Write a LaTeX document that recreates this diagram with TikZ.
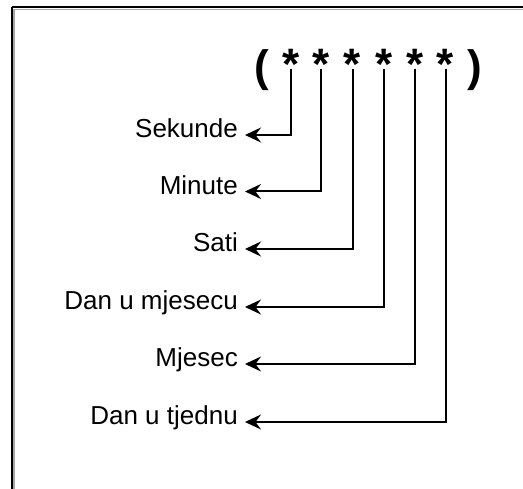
\documentclass[tikz,border=0pt]{standalone}
\usepackage{fontspec}
\setmainfont{Liberation Sans}
\usetikzlibrary{arrows.meta}
\begin{document}
\begin{tikzpicture}[x=1bp,y=-1bp,
  lab/.style={anchor=east,inner ysep=0pt,inner xsep=7bp,text height=0.72em,text depth=0.21em,font=\fontsize{26bp}{30bp}\selectfont},
  sym/.style={anchor=base,inner sep=0pt,font=\fontsize{44bp}{50bp}\selectfont\bfseries},
  arr/.style={draw=black,line width=2bp,-{Stealth[length=16bp,width=15bp,inset=5.5bp,fill=black]}},
  frame/.style={line width=2bp,draw=black},
  shade/.style={line width=1.6bp,draw=black!35}]
\useasboundingbox (0,0) rectangle (523,489);
% frame with shadow
\draw[shade] (13.8,9.4) -- (523,9.4);
\draw[shade] (13.8,9.4) -- (13.8,489);
\draw[frame] (11.7,7.3) -- (523,7.3);
\draw[frame] (11.7,7.3) -- (11.7,489);
% brackets and stars
\node[sym] (lp) at (262,82) {(};
\node[sym] (rp) at (475,82) {)};
\node[sym] (s1) at (291,80) {*};
\node[sym] (s2) at (321,80) {*};
\node[sym] (s3) at (352.5,80) {*};
\node[sym] (s4) at (384,80) {*};
\node[sym] (s5) at (415,80) {*};
\node[sym] (s6) at (445.5,80) {*};
\coordinate (t1) at (291,69);
\coordinate (t2) at (321,69);
\coordinate (t3) at (352.5,69);
\coordinate (t4) at (384,69);
\coordinate (t5) at (415,69);
\coordinate (t6) at (445.5,69);
% labels
\node[lab] (l1) at (245,135) {Sekunde};
\node[lab] (l2) at (245,191.5) {Minute};
\node[lab] (l3) at (245,249) {Sati};
\node[lab] (l4) at (245,307) {Dan u mjesecu};
\node[lab] (l5) at (245,364) {Mjesec};
\node[lab] (l6) at (245,422) {Dan u tjednu};
% connectors
\draw[arr] (t1) |- (l1.east);
\draw[arr] (t2) |- (l2.east);
\draw[arr] (t3) |- (l3.east);
\draw[arr] (t4) |- (l4.east);
\draw[arr] (t5) |- (l5.east);
\draw[arr] (t6) |- (l6.east);
\end{tikzpicture}
\end{document}
